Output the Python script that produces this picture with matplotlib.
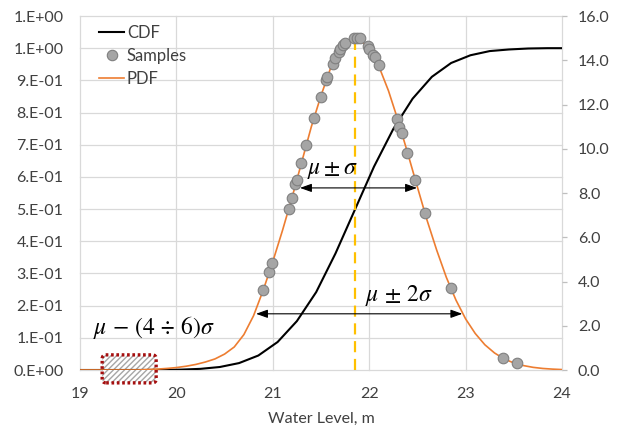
import matplotlib
matplotlib.use("Agg")
import matplotlib.pyplot as plt
from matplotlib.patches import FancyBboxPatch
from matplotlib.lines import Line2D
import numpy as np

plt.rcParams['font.family'] = ['Lato', 'DejaVu Sans']
plt.rcParams['mathtext.fontset'] = 'stix'

# ---------------- data ----------------
# CDF (left axis)
cdf_x = [19.0, 19.25, 19.45, 19.65, 19.85, 20.05, 20.25, 20.45, 20.65, 20.85,
         21.05, 21.25, 21.45, 21.65, 21.85, 22.05, 22.25, 22.45, 22.65, 22.85,
         23.05, 23.25, 23.45, 23.65, 23.85, 24.0]
cdf_y = [0.0, 0.0, 0.0, 0.0001, 0.0004, 0.0012, 0.0036, 0.0093, 0.0215, 0.045,
         0.087, 0.152, 0.242, 0.362, 0.497, 0.632, 0.749, 0.843, 0.911, 0.954,
         0.978, 0.991, 0.996, 0.999, 1.0, 1.0]

# PDF (right axis)
pdf_x = [19.0, 19.6, 19.8, 19.9, 20.0, 20.1, 20.2, 20.3, 20.4, 20.5, 20.6, 20.7,
         20.8, 20.9, 21.0, 21.1, 21.2, 21.3, 21.4, 21.5, 21.6, 21.7, 21.8, 21.85,
         21.9, 22.0, 22.1, 22.2, 22.3, 22.4, 22.5, 22.6, 22.7, 22.8, 22.9, 23.0,
         23.1, 23.2, 23.3, 23.4, 23.5, 23.6, 23.7, 23.8, 23.9, 24.0]
pdf_y = [0.0, 0.0, 0.04, 0.07, 0.11, 0.17, 0.25, 0.36, 0.50, 0.72, 1.04, 1.6,
         2.45, 3.6, 4.9, 6.3, 7.8, 9.4, 11.0, 12.4, 13.65, 14.5, 14.93, 15.0,
         14.95, 14.53, 13.73, 12.62, 11.27, 9.79, 8.27, 6.77, 5.42, 4.19, 3.16, 2.31,
         1.65, 1.14, 0.77, 0.50, 0.32, 0.20, 0.12, 0.07, 0.04, 0.02]

# Samples (right axis)
smp_x = [20.902, 20.964, 20.995, 21.170, 21.196, 21.227, 21.248, 21.295, 21.343,
         21.427, 21.497, 21.552, 21.559, 21.621, 21.645, 21.690, 21.697, 21.732,
         21.749, 21.846, 21.877, 21.905, 21.984, 22.001, 22.043, 22.060, 22.098,
         22.292, 22.313, 22.340, 22.396, 22.475, 22.579, 22.845, 23.391, 23.537]
smp_y = [3.62, 4.41, 4.82, 7.26, 7.76, 8.41, 8.59, 9.34, 10.15,
         11.38, 12.35, 13.11, 13.23, 13.83, 14.09, 14.39, 14.49, 14.69,
         14.79, 15.02, 14.99, 14.99, 14.64, 14.49, 14.24, 14.13, 13.79,
         11.33, 10.97, 10.73, 9.82, 8.59, 7.11, 3.69, 0.53, 0.30]

mean_x = 21.85
mean_top = 15.0

x_ticks = [19, 20, 21, 22, 23, 24]
left_ticks = [0.0, 0.1, 0.2, 0.3, 0.4, 0.5, 0.6, 0.7, 0.8, 0.9, 1.0, 1.1]
left_labels = ['0.E+00', '1.E-01', '2.E-01', '3.E-01', '4.E-01', '5.E-01',
               '6.E-01', '7.E-01', '8.E-01', '9.E-01', '1.E+00', '1.E+00']
right_ticks = [0, 2, 4, 6, 8, 10, 12, 14, 16]
right_labels = ['0.0', '2.0', '4.0', '6.0', '8.0', '10.0', '12.0', '14.0', '16.0']

# annotations (x range, level on right axis)
sig1 = (21.282, 22.496, 8.23)
sig2 = (20.826, 22.966, 2.54)
tail_box = (19.23, 19.79, -0.04, 0.047)   # x0, x1, y0, y1 (left axis)

# ---------------- figure ----------------
W, H = 624, 428
fig = plt.figure(figsize=(W / 100, H / 100), dpi=100)
ax_l, ax_b, ax_w, ax_h = 80 / W, 1 - 370 / H, 482 / W, 354 / H
ax1 = fig.add_axes([ax_l, ax_b, ax_w, ax_h])
ax2 = ax1.twinx()

tick_col = '#404040'
grid_col = '#D9D9D9'

ax1.set_xlim(19, 24)
ax1.set_ylim(0, 1.1)
ax2.set_ylim(0, 16)

for a in (ax1, ax2):
    for s in a.spines.values():
        s.set_visible(False)

ax1.set_xticks(x_ticks)
ax1.set_xticklabels([str(v) for v in x_ticks])
ax1.set_yticks(left_ticks)
ax1.set_yticklabels(left_labels)
ax1.grid(True, color=grid_col, lw=0.9)
ax1.set_axisbelow(True)
for gl in ax1.get_xgridlines() + ax1.get_ygridlines():
    gl.set_clip_on(False)
ax1.tick_params(axis='both', length=0, labelsize=11.5, labelcolor=tick_col)
ax1.tick_params(axis='y', pad=12)
ax1.tick_params(axis='x', pad=12)
ax1.set_xlabel('Water Level, m', fontsize=11.5, color=tick_col, labelpad=8)

ax2.set_yticks(right_ticks)
ax2.set_yticklabels(right_labels)
ax2.tick_params(axis='y', length=3.5, width=0.9, color='#BFBFBF', pad=8,
                labelsize=11.5, labelcolor=tick_col)

# tail box (hatched, dotted red, rounded)
bx0, bx1, by0, by1 = tail_box
ppx = ax_w * W / (24 - 19)        # pixels per x unit
ppy = ax_h * H / 1.1              # pixels per left-y unit
r = 4 / ppx
asp = ppx / ppy
hatch_patch = FancyBboxPatch((bx0, by0), bx1 - bx0, by1 - by0,
                             boxstyle=f'round,pad=0,rounding_size={r}',
                             mutation_aspect=asp, facecolor='white',
                             edgecolor='#A6A6A6', hatch='//////', lw=0,
                             zorder=1.5, clip_on=False)
ax1.add_patch(hatch_patch)
edge_patch = FancyBboxPatch((bx0, by0), bx1 - bx0, by1 - by0,
                            boxstyle=f'round,pad=0,rounding_size={r}',
                            mutation_aspect=asp, facecolor='none',
                            edgecolor='#A50F0F', lw=2.4, linestyle=(0, (0.8, 0.8)),
                            zorder=1.6, clip_on=False)
ax1.add_patch(edge_patch)

# CDF
cdf_line, = ax1.plot(cdf_x, cdf_y, color='black', lw=1.5, zorder=3, label='CDF')

# PDF, samples, mean
pdf_line, = ax2.plot(pdf_x, pdf_y, color='#ED7D31', lw=1.2, zorder=3, label='PDF')
ax2.plot([mean_x, mean_x], [0, mean_top], color='#FFC000', lw=1.6,
         linestyle=(0, (5, 3)), zorder=2)
ax2.scatter(smp_x, smp_y, s=58, color='#A5A5A5', edgecolors='#7F7F7F',
            linewidths=0.8, zorder=4, label='Samples')

# arrows
arrow_kw = dict(arrowstyle='<|-|>,head_length=0.7,head_width=0.25',
                color='black', lw=0.8, shrinkA=0, shrinkB=0)
ax2.annotate('', xy=(sig1[1], sig1[2]), xytext=(sig1[0], sig1[2]), arrowprops=arrow_kw)
ax2.annotate('', xy=(sig2[1], sig2[2]), xytext=(sig2[0], sig2[2]), arrowprops=arrow_kw)

ax2.text(21.62, 9.0, r'$\mu \pm \sigma$', fontsize=17, ha='center', va='center')
ax2.text(22.31, 3.38, r'$\mu \,\pm\, 2\sigma$', fontsize=17, ha='center', va='center')
ax2.text(19.77, 1.9, r'$\mu \,-\, (4 \,\div\, 6)\sigma$', fontsize=17,
         ha='center', va='center')

# legend
h_smp = Line2D([], [], marker='o', ls='none', ms=7.5, markerfacecolor='#A5A5A5',
               markeredgecolor='#7F7F7F', markeredgewidth=0.8)
leg = ax2.legend([cdf_line, h_smp, pdf_line], ['CDF', 'Samples', 'PDF'],
                 loc='upper left', bbox_to_anchor=(0.04, 0.974), frameon=False,
                 fontsize=12, handlelength=1.5, handletextpad=0.15,
                 labelspacing=0.42, borderpad=0, borderaxespad=0)
for t in leg.get_texts():
    t.set_color(tick_col)

fig.savefig('out.png', dpi=100)
